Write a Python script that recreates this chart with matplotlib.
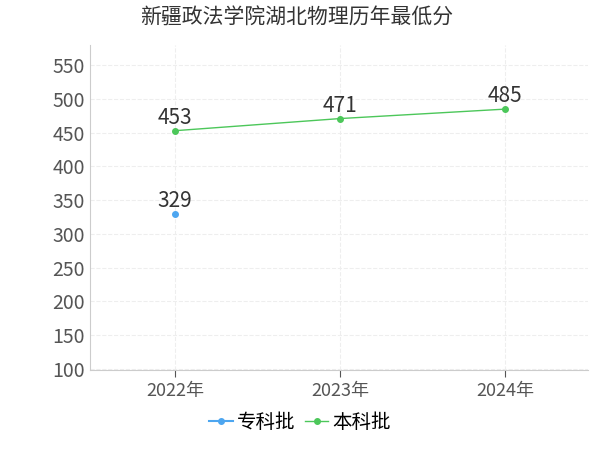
import matplotlib.pyplot as plt

plt.rcParams['font.family'] = ['Noto Sans CJK SC', 'DejaVu Sans']

years = ['2022年', '2023年', '2024年']
zhuanke = [329, None, None]
benke = [453, 471, 485]
yticks = [100, 150, 200, 250, 300, 350, 400, 450, 500, 550]

fig = plt.figure(figsize=(6, 4.5), dpi=100)
ax = fig.add_axes([0.15, 0.178, 0.83, 0.722])

x = list(range(len(years)))
ax.plot([0], [zhuanke[0]], color='#4da6f0', marker='o', markersize=4, label='专科批')
ax.plot(x, benke, color='#4cc75a', marker='o', markersize=4, linewidth=1, label='本科批')
ax.text(0, zhuanke[0] + 3, str(zhuanke[0]), ha='center', va='bottom', fontsize=15, color='#333333')
for i, v in enumerate(benke):
    ax.text(i, v + 3, str(v), ha='center', va='bottom', fontsize=15, color='#333333')

ax.set_xlim(-0.515, 2.5)
ax.set_ylim(98.5, 580)
ax.set_yticks(yticks)
ax.set_xticks(x)
ax.set_xticklabels(years)
ax.tick_params(axis='y', labelsize=14, colors='#555555', length=0)
ax.tick_params(axis='x', labelsize=13, colors='#555555', length=5)
ax.grid(True, color='#eeeeee', linestyle='--', linewidth=0.8)
for s in ['top', 'right']:
    ax.spines[s].set_visible(False)
for s in ['left', 'bottom']:
    ax.spines[s].set_color('#cccccc')

fig.suptitle('新疆政法学院湖北物理历年最低分', x=0.495, y=0.985, fontsize=15, color='#333333')
fig.legend(loc='lower center', bbox_to_anchor=(0.5, 0.0), ncol=2, frameon=False,
           fontsize=14, handlelength=1.2, handletextpad=0.2, columnspacing=0.5)

fig.savefig('out.png')
